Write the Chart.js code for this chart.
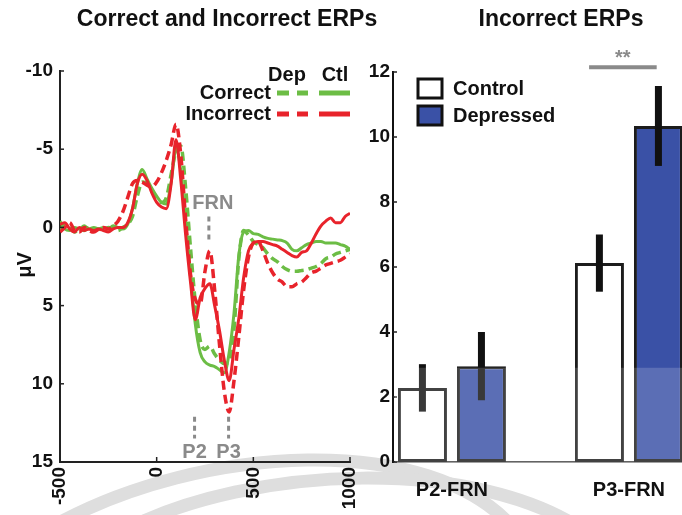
<!DOCTYPE html>
<html>
<head>
<meta charset="utf-8">
<script src="https://cdn.jsdelivr.net/npm/chart.js@4.4.1/dist/chart.umd.min.js"></script>
<style>
  html, body { margin: 0; padding: 0; background: #fff; }
  #wrap { position: relative; width: 682px; height: 515px; overflow: hidden; }
  .box { position: absolute; top: 0; height: 515px; }
</style>
</head>
<body>
<div id="wrap">
  <canvas id="bg" width="682" height="515" style="position:absolute;left:0;top:0"></canvas>
  <div class="box" style="left:0;width:400px"><canvas id="erpChart"></canvas></div>
  <div class="box" style="left:360px;width:322px"><canvas id="barChart"></canvas></div>
</div>
<script>
// ---- ERP waveforms (ms, µV; positive plotted downward) ----
const times = [-500, -475, -450, -425, -400, -375, -350, -325, -300, -275, -250, -225, -200, -175, -150, -125, -100, -75, -50, -25,
  0, 25, 50, 75, 100, 125, 150, 175, 200, 225, 250, 275, 300, 325, 350, 375, 400, 425, 450, 475,
  500, 525, 550, 575, 600, 625, 650, 675, 700, 725, 750, 775, 800, 825, 850, 875, 900, 925, 950, 975, 1000];

const correctCtl = [-0.4, 0.1, 0.2, 0.0, 0.1, -0.1, 0.1, 0.0, 0.1, 0.0, 0.1, -0.1, 0.0, 0.1, -0.2, -1.2, -2.8, -3.7, -3.1, -2.5,
  -2.0, -1.6, -1.5, -2.9, -5.0, -3.6, -0.3, 3.0, 6.2, 8.0, 8.6, 8.8, 8.9, 9.1, 9.3, 8.0, 5.5, 1.8, 0.3, 0.2,
  0.4, 0.45, 0.6, 0.7, 0.75, 0.8, 0.85, 1.0, 1.4, 1.5, 1.3, 1.1, 1.0, 0.9, 0.9, 1.0, 1.0, 1.0, 1.1, 1.2, 1.4];

const correctDep = [0.2, -0.2, 0.0, 0.3, 0.1, 0.2, 0.0, 0.2, 0.1, 0.2, 0.0, 0.1, 0.2, 0.0, -0.2, -0.7, -2.0, -2.9, -2.8, -2.3,
  -1.9, -1.6, -1.9, -3.4, -4.9, -5.2, -2.5, 1.3, 4.8, 7.2, 7.8, 7.6, 8.1, 8.5, 8.7, 8.6, 6.5, 2.0, 0.2, 0.5,
  0.9, 1.1, 1.3, 1.7, 2.0, 2.2, 2.5, 2.7, 2.8, 2.8, 2.75, 2.7, 2.6, 2.5, 2.3, 2.0, 1.9, 1.7, 1.6, 1.5, 1.4];

const incorrectCtl = [-0.2, -0.3, 0.1, 0.3, 0.0, 0.2, 0.1, 0.2, 0.1, 0.2, 0.3, 0.1, 0.0, 0.0, -0.3, -1.2, -2.8, -3.4, -3.0, -2.2,
  -1.6, -1.3, -1.2, -2.8, -5.6, -3.0, 0.5, 3.5, 5.9, 4.5, 3.9, 3.6, 5.0, 6.6, 8.5, 9.8, 7.8, 5.8, 3.2, 1.5,
  1.0, 0.9, 0.9, 1.0, 1.1, 1.2, 1.4, 1.6, 1.8, 1.9, 1.6, 1.5, 1.0, 0.4, -0.1, -0.4, -0.6, -0.3, -0.3, -0.7, -0.9];

const incorrectDep = [0.3, 0.0, -0.3, 0.2, 0.3, 0.0, 0.2, 0.3, 0.1, 0.0, 0.1, -0.1, -0.4, -1.0, -1.9, -2.8, -3.0, -2.9, -2.7, -2.6,
  -2.9, -3.5, -4.3, -5.3, -6.6, -4.6, -0.5, 3.0, 4.6, 4.9, 2.8, 1.5, 4.0, 7.5, 10.5, 11.8, 9.8, 7.0, 4.0, 1.9,
  1.0, 0.9, 1.5, 2.3, 2.9, 3.3, 3.5, 3.8, 3.8, 3.6, 3.5, 3.2, 2.9, 2.8, 2.6, 2.4, 2.3, 2.2, 2.1, 1.9, 1.7];

const markerNames = ['FRN', 'P2', 'P3'];
const markerTimes = [270, 196, 372];

// ---- Incorrect ERP amplitudes (bars) ----
const groupLabels = ['P2-FRN', 'P3-FRN'];
const groupPos = [1, 2];
const controlMeans = [2.28, 6.12];
const controlErr = [0.73, 0.88];
const depressedMeans = [2.95, 10.34];
const depressedErr = [1.05, 1.23];

const green = '#6cbd45';
const red = '#e8232b';
const blue = '#3a51a6';
const grey = '#8a8a8a';
const FONT = '"Liberation Sans", Arial, sans-serif';

function pts(arr) {
  return times.map((t, i) => ({ x: t, y: arr[i] }));
}

// watermark arcs in the background
const bg = document.getElementById('bg').getContext('2d');
bg.strokeStyle = '#dedede';
bg.lineWidth = 13;
bg.beginPath();
bg.moveTo(55, 525);
bg.bezierCurveTo(200, 445, 430, 430, 515, 530);
bg.stroke();
bg.beginPath();
bg.moveTo(125, 530);
bg.bezierCurveTo(250, 465, 480, 455, 590, 535);
bg.stroke();

function innerTicks(ctx, scale, horizontal, area, len) {
  ctx.save();
  ctx.strokeStyle = '#222';
  ctx.lineWidth = 1.5;
  scale.ticks.forEach(t => {
    const p = scale.getPixelForValue(t.value);
    ctx.beginPath();
    if (horizontal) { ctx.moveTo(p, area.bottom); ctx.lineTo(p, area.bottom - len); }
    else { ctx.moveTo(area.left, p); ctx.lineTo(area.left + len, p); }
    ctx.stroke();
  });
  ctx.restore();
}

const erpDecor = {
  id: 'erpDecor',
  afterDraw(chart) {
    const { ctx, chartArea: a, scales: { x, y } } = chart;
    innerTicks(ctx, x, true, a, 5);
    innerTicks(ctx, y, false, a, 4);
    ctx.save();
    ctx.textAlign = 'center';
    ctx.textBaseline = 'middle';
    ctx.fillStyle = '#111';
    ctx.font = 'bold 23px ' + FONT;
    ctx.fillText('Correct and Incorrect ERPs', 227, 20);

    // axis title
    ctx.save();
    ctx.translate(25, 265);
    ctx.rotate(-Math.PI / 2);
    ctx.font = 'bold 20px ' + FONT;
    ctx.fillText('μV', 0, 0);
    ctx.restore();

    // legend
    ctx.font = 'bold 20px ' + FONT;
    ctx.fillText('Dep', 287, 75);
    ctx.fillText('Ctl', 335, 75);
    ctx.textAlign = 'right';
    [['Correct', green, 93], ['Incorrect', red, 114]].forEach(([label, col, ly]) => {
      ctx.fillStyle = '#111';
      ctx.fillText(label, 271, ly);
      ctx.strokeStyle = col;
      ctx.lineWidth = 5;
      ctx.setLineDash([12, 8]);
      ctx.beginPath(); ctx.moveTo(277, ly); ctx.lineTo(308, ly); ctx.stroke();
      ctx.setLineDash([]);
      ctx.beginPath(); ctx.moveTo(319, ly); ctx.lineTo(350, ly); ctx.stroke();
    });

    // component markers
    ctx.strokeStyle = grey;
    ctx.fillStyle = grey;
    ctx.lineWidth = 3;
    ctx.setLineDash([5, 4]);
    ctx.textAlign = 'center';
    markerTimes.forEach((t, i) => {
      const px = x.getPixelForValue(t);
      let y0, y1, ty, tx = px;
      if (i === 0) { y0 = y.getPixelForValue(-0.7); y1 = y.getPixelForValue(0.8); ty = y.getPixelForValue(-1.5); tx = px + 4; }
      else { y0 = y.getPixelForValue(12.1); y1 = y.getPixelForValue(13.5); ty = y.getPixelForValue(14.4); }
      ctx.beginPath(); ctx.moveTo(px, y0); ctx.lineTo(px, y1); ctx.stroke();
      ctx.fillText(markerNames[i], tx, ty);
    });
    ctx.restore();
  }
};

new Chart(document.getElementById('erpChart'), {
  type: 'line',
  data: {
    datasets: [
      { label: 'Incorrect Ctl', data: pts(incorrectCtl), borderColor: red, borderWidth: 3 },
      { label: 'Incorrect Dep', data: pts(incorrectDep), borderColor: red, borderWidth: 3.5, borderDash: [9, 5] },
      { label: 'Correct Ctl', data: pts(correctCtl), borderColor: green, borderWidth: 3 },
      { label: 'Correct Dep', data: pts(correctDep), borderColor: green, borderWidth: 3.5, borderDash: [9, 5] }
    ]
  },
  options: {
    responsive: true,
    maintainAspectRatio: false,
    animation: false,
    layout: { padding: { top: 71, right: 50, left: 0, bottom: 0 } },
    elements: { point: { radius: 0 }, line: { cubicInterpolationMode: 'monotone' } },
    plugins: { legend: { display: false }, tooltip: { enabled: false } },
    scales: {
      x: {
        type: 'linear', min: -500, max: 1000,
        grid: { display: false, drawTicks: false },
        border: { display: true, color: '#222', width: 2 },
        ticks: {
          stepSize: 500, minRotation: 90, maxRotation: 90, padding: 5, color: '#111',
          font: { family: FONT, size: 19, weight: 'bold' },
          callback: v => String(v)
        },
        afterFit: s => { s.height = 53; }
      },
      y: {
        min: -10, max: 15, reverse: true,
        grid: { display: false, drawTicks: false },
        border: { display: true, color: '#222', width: 2 },
        ticks: { stepSize: 5, padding: 7, color: '#111', font: { family: FONT, size: 19, weight: 'bold' } },
        afterFit: s => { s.width = 60; }
      }
    }
  },
  plugins: [erpDecor]
});

const barDecor = {
  id: 'barDecor',
  afterDraw(chart) {
    const { ctx, chartArea: a, scales: { x, y } } = chart;
    innerTicks(ctx, y, false, a, 4);
    ctx.save();
    // error bars
    ctx.strokeStyle = '#111';
    ctx.lineWidth = 7;
    [[controlMeans, controlErr], [depressedMeans, depressedErr]].forEach(([m, e], d) => {
      chart.getDatasetMeta(d).data.forEach((bar, i) => {
        ctx.beginPath();
        ctx.moveTo(bar.x, y.getPixelForValue(m[i] + e[i]));
        ctx.lineTo(bar.x, y.getPixelForValue(m[i] - e[i]));
        ctx.stroke();
      });
    });
    // washed-out lower band of the figure
    ctx.fillStyle = 'rgba(255,255,255,0.17)';
    const top = y.getPixelForValue(2.9);
    ctx.fillRect(a.left + 2, top, a.right - a.left, y.getPixelForValue(0) - top);

    // significance
    ctx.strokeStyle = grey;
    ctx.lineWidth = 4;
    ctx.beginPath();
    ctx.moveTo(x.getPixelForValue(1.775), y.getPixelForValue(12.15));
    ctx.lineTo(x.getPixelForValue(2.157), y.getPixelForValue(12.15));
    ctx.stroke();
    ctx.fillStyle = grey;
    ctx.textAlign = 'center';
    ctx.textBaseline = 'middle';
    ctx.font = 'bold 20px ' + FONT;
    ctx.fillText('**', x.getPixelForValue(1.965), y.getPixelForValue(12.45) + 1);

    // title
    ctx.fillStyle = '#111';
    ctx.font = 'bold 23px ' + FONT;
    ctx.fillText('Incorrect ERPs', 201, 20);

    // legend
    ctx.font = 'bold 20px ' + FONT;
    ctx.textAlign = 'left';
    ctx.lineWidth = 3;
    ctx.strokeStyle = '#111';
    [['Control', '#ffffff', 79], ['Depressed', blue, 106]].forEach(([label, fill, by]) => {
      ctx.fillStyle = fill;
      ctx.fillRect(a.left + 25, by, 24, 19);
      ctx.strokeRect(a.left + 25, by, 24, 19);
      ctx.fillStyle = '#111';
      ctx.fillText(label, a.left + 60, by + 10);
    });
    ctx.restore();
  }
};

new Chart(document.getElementById('barChart'), {
  type: 'bar',
  data: {
    datasets: [
      {
        label: 'Control',
        data: groupPos.map((g, i) => ({ x: g, y: controlMeans[i] })),
        backgroundColor: '#ffffff', borderColor: '#1c1c1c', borderWidth: 3, borderSkipped: false
      },
      {
        label: 'Depressed',
        data: groupPos.map((g, i) => ({ x: g, y: depressedMeans[i] })),
        backgroundColor: blue, borderColor: '#1c1c1c', borderWidth: 3, borderSkipped: false
      }
    ]
  },
  options: {
    responsive: true,
    maintainAspectRatio: false,
    animation: false,
    layout: { padding: { top: 72, right: 0, left: 0, bottom: 0 } },
    categoryPercentage: 0.667,
    barPercentage: 0.83,
    plugins: { legend: { display: false }, tooltip: { enabled: false } },
    scales: {
      x: {
        type: 'linear', min: 0.667, max: 2.3, offset: false, bounds: 'ticks',
        grid: { display: false, offset: false, drawTicks: false },
        border: { display: true, color: '#444', width: 1.5 },
        afterBuildTicks: s => { s.ticks = groupPos.map(v => ({ value: v })); },
        ticks: {
          padding: 16, color: '#111', maxRotation: 0, autoSkip: false,
          font: { family: FONT, size: 20, weight: 'bold' },
          callback: (v, i) => groupLabels[i]
        },
        afterFit: s => { s.height = 53; }
      },
      y: {
        min: 0, max: 12,
        grid: { display: false, drawTicks: false },
        border: { display: true, color: '#111', width: 2 },
        ticks: { stepSize: 2, padding: 3, color: '#111', font: { family: FONT, size: 19, weight: 'bold' } },
        afterFit: s => { s.width = 33; }
      }
    }
  },
  plugins: [barDecor]
});
</script>
</body>
</html>
